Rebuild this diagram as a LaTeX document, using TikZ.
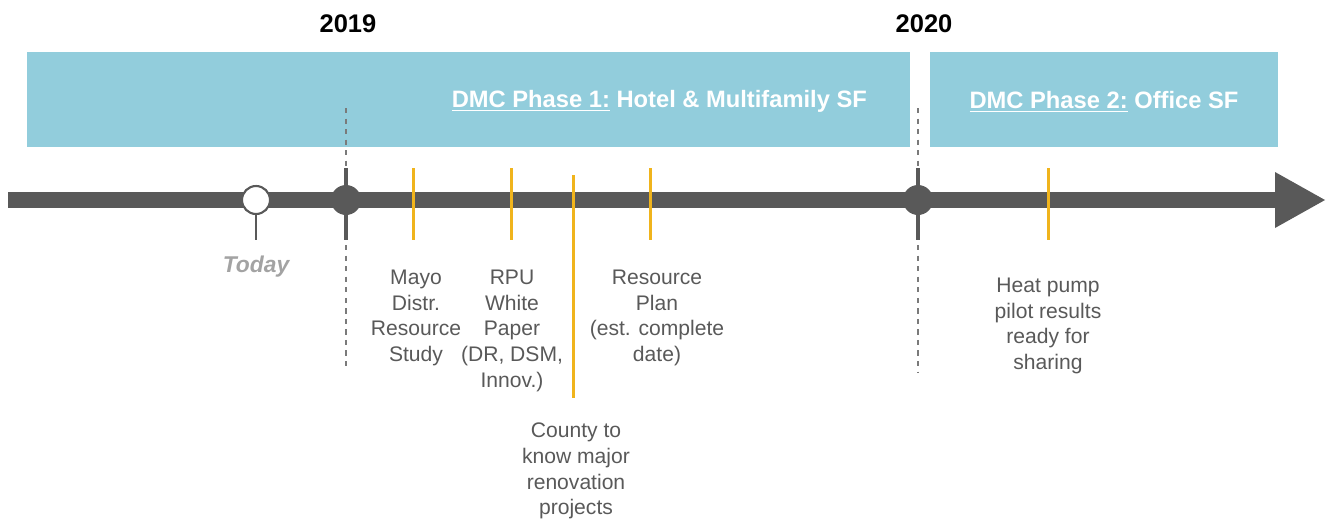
\documentclass[tikz,border=0pt]{standalone}
\usepackage{fontspec}
\setmainfont{Liberation Sans}
\usepackage{tikz}
\usetikzlibrary{positioning}
\definecolor{barGray}{HTML}{595959}
\definecolor{phaseBlue}{HTML}{92CDDC}
\definecolor{tickGold}{HTML}{F0B41C}
\definecolor{todayGray}{HTML}{A3A3A3}
\tikzset{
% Define shared looks of the timeline
phase/.style={rectangle, fill=phaseBlue, inner sep=0, outer sep=0, minimum height=1.9cm},
phasetext/.style={text=white, inner sep=0, font=\fontsize{13.5}{15}\selectfont\bfseries},
yeartext/.style={inner sep=0, font=\fontsize{14.5}{17}\selectfont\bfseries},
milestone/.style={draw=tickGold, line width=1.7pt},
eventtext/.style={text=barGray, align=center, anchor=north, inner sep=0, font=\fontsize{12}{14.6}\selectfont},
yearline/.style={draw=barGray!80, line width=0.8pt, dash pattern=on 3pt off 3pt},
yearmark/.style={circle, fill=barGray, minimum size=0.6cm, inner sep=0}
}

\begin{document}
\begin{tikzpicture}[x=0.02cm, y=-0.02cm, inner sep=0, outer sep=0]
  \useasboundingbox (0,0) rectangle (1331,518);

  % phases
  \node[phase, minimum width=17.66cm] (phase1) at (468.5,99.5) {};
  \node[phase, minimum width=6.96cm] (phase2) at (1104,99.5) {};
  \node[phasetext, anchor=east] (phase1-text) at ([xshift=-0.86cm, yshift=-0.04cm]phase1.east)
    {\underline{DMC Phase 1:} Hotel \& Multifamily SF};
  \node[phasetext] (phase2-text) at ([yshift=-0.04cm]phase2.center) {\underline{DMC Phase 2:} Office SF};

  % years
  \node[yeartext] (y2019-text) at (348,24) {2019};
  \node[yeartext] (y2020-text) at (924,24) {2020};
  \draw[yearline] (346,108) -- (346,370);
  \draw[yearline] (918,108) -- (918,372);

  % time axis
  \draw[barGray, line width=9.6pt] (8,200) -- (1278,200);
  \fill[barGray] (1275,172) -- (1325,200) -- (1275,228) -- cycle;

  % today
  \draw[barGray, line width=1.2pt] (256,205) -- (256,240);
  \node[circle, draw=barGray, line width=1.2pt, fill=white, minimum size=0.56cm] (today) at (256,200) {};
  \node[text=todayGray, font=\fontsize{13}{15}\selectfont\bfseries\itshape] (today-text) at (256,267) {Today};

  % year marks
  \foreach \x/\name in {346/y2019, 918/y2020} {
    \draw[barGray, line width=2.3pt] (\x,168) -- (\x,240);
    \node[yearmark] (\name) at (\x,200) {};
  }

  % milestones
  \foreach \x in {413, 511, 650, 1048}
    \draw[milestone] (\x,168) -- (\x,240);
  \draw[milestone] (573,175) -- (573,398);

  \node[eventtext] (mayo) at (416,270) {Mayo\\Distr.\\Resource\\Study};
  \node[eventtext] (rpu) at (512,270) {RPU\\White\\Paper\\(DR, DSM,\\Innov.)};
  \node[eventtext] (county) at (576,423) {County to\\know major\\renovation\\projects};
  \node[eventtext] (plan) at (657,270) {Resource\\Plan\\(est. complete\\date)};
  \node[eventtext] (heatpump) at (1048,278) {Heat pump\\pilot results\\ready for\\sharing};
\end{tikzpicture}
\end{document}
